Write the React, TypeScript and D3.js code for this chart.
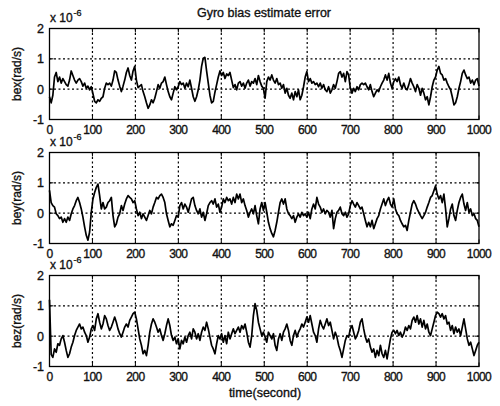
import React from 'react';
import * as d3 from 'd3';

const timeTicks = [0, 100, 200, 300, 400, 500, 600, 700, 800, 900, 1000];
const yTicks = [-1, 0, 1, 2];
const titleText = 'Gyro bias estimate error';
const xLabelText = 'time(second)';
const yLabels = ['bex(rad/s)', 'bey(rad/s)', 'bez(rad/s)'];

// bex, first and second half (units of 1e-6 rad/s)
const bexA = [
  -0.25, -0.45, -0.2, 0.4, 0.55, 0.25, 0.4, 0.2, 0.35, 0.25,
  0.15, 0.1, 0.3, 0.6, 0.45, 0.3, 0.2, 0.3, 0.35, 0.25,
  0.1, 0.2, 0.03, 0.1, -0.02, 0.08, -0.15, -0.4, -0.45, -0.35,
  -0.4, -0.3, -0.25, 0.03, 0.2, 0.15, 0.2, 0.1, 0.3, 0.6,
  0.55, 0.3, 0.1, -0.08, 0.1, 0.3, 0.55, 0.7, 0.45, 0.3,
  0.6, 0.75, 0.3, 0.05, 0.1, 0.15, -0.08, -0.25, -0.45, -0.63,
  -0.52, -0.35, -0.45, -0.3, -0.08, 0.15, 0.03, 0.2, 0.25, 0.4,
  0.15, -0.08, -0.25, -0.35, -0.13, 0.08, -0.02, 0.08, 0.25, 0.15,
  0.2, 0.03, 0.2, 0.08, 0.3, 0.03, -0.25, -0.4, -0.25, -0.02,
  0.3, 0.75, 1.02, 1.05, 0.6, 0.2, -0.2, -0.45, -0.4, -0.1,
  0.15, 0.4, 0.6, 0.45, 0.55, 0.35, 0.5, 0.45, 0.55, 0.3,
  0.05, 0.15, -0.02, 0.2, 0.25, 0.1, 0.2, 0.03, 0.2, 0.3,
  0.1, 0.25, 0.2, 0.35, 0.15, 0.45, 0.25, 0.1, 0.03,
];
const bexB = [
  -0.3, 0.25, 0.4, 0.3, 0.47, 0.3, 0.2, 0.35, 0.15, 0.2,
  0.03, 0.15, -0.13, 0.03, -0.2, -0.3, -0.13, -0.35, -0.08, -0.25,
  -0.02, -0.35, -0.2, 0.08, 0.4, 0.58, 0.25, 0.35, 0.2, 0.25,
  0.15, 0.2, 0.08, 0.2, 0.03, 0.15, -0.02, -0.08, 0.08, -0.13,
  -0.02, 0.15, 0.03, 0.25, 0.52, 0.58, 0.4, 0.52, 0.25, 0.58,
  0.47, 0.03, -0.13, 0.03, -0.08, 0.08, -0.02, 0.15, 0.2, 0.15,
  0.2, 0.08, -0.02, 0.15, -0.08, -0.25, -0.13, -0.02, -0.08, 0.08,
  0.2, 0.3, 0.47, 0.3, 0.52, 0.2, 0.03, 0.25, 0.35, 0.25,
  0.4, 0.15, 0.03, 0.2, 0.03, -0.02, 0.15, 0.35, 0.2, 0.08,
  -0.08, 0.15, 0.03, -0.2, 0.03, -0.13, -0.35, -0.25, -0.52, -0.25,
  0.08, 0.3, 0.4, 0.63, 0.75, 0.52, 0.47, 0.3, 0.35, 0.2,
  0.08, -0.02, -0.25, -0.52, -0.45, -0.25, 0.03, 0.25, 0.52, 0.63,
  0.47, 0.35, 0.4, 0.2, 0.3, 0.15, 0.3, 0.35, 0.1,
];

// bey
const beyA = [
  0.75, 0.35, 0.25, 0.2, -0.02, -0.08, -0.18, -0.13, -0.3, -0.18,
  -0.3, -0.13, -0.24, -0.02, 0.14, 0.25, 0.41, 0.52, 0.35, 0.14,
  -0.13, -0.45, -0.73, -0.89, -0.62, 0.03, 0.47, 0.68, 0.85, 0.96,
  0.58, 0.14, 0.35, 0.14, 0.2, 0.35, 0.41, 0.52, -0.08, -0.45,
  -0.35, -0.13, -0.02, 0.25, 0.09, 0.3, 0.47, 0.58, 0.52, 0.47,
  0.35, 0.41, 0.14, -0.08, 0.03, -0.18, -0.02, -0.13, -0.24, -0.08,
  0.09, -0.02, 0.2, 0.35, 0.52, 0.47, 0.58, 0.63, 0.52, 0.35,
  -0.02, -0.24, -0.45, -0.35, -0.4, -0.24, -0.08, -0.13, 0.25, 0.35,
  0.14, 0.3, 0.2, 0.03, 0.25, 0.47, 0.52, 0.25, 0.09, -0.02,
  0.14, -0.13, 0.03, -0.24, -0.02, 0.25, 0.35, 0.41, 0.3, 0.47,
  0.2, 0.3, 0.03, 0.2, 0.47, 0.35, 0.52, 0.41, 0.47, 0.3,
  0.52, 0.35, 0.63, 0.47, 0.63, 0.35, 0.47, 0.25, 0.09, -0.13,
  0.03, 0.14, -0.02, 0.25, -0.08, -0.35, 0.14, 0.35, 0.09,
];
const beyB = [
  0.35, 0.03, -0.3, -0.51, -0.67, -0.78, -0.57, -0.3, 0.03, 0.35,
  0.47, 0.3, 0.47, 0.14, -0.02, -0.08, -0.18, -0.08, -0.3, -0.13,
  -0.02, -0.13, 0.03, -0.08, -0.02, -0.13, 0.03, -0.18, 0.14, 0.3,
  0.14, 0.52, 0.3, 0.2, 0.03, 0.14, -0.02, 0.09, 0.03, -0.13,
  0.09, -0.51, -0.18, 0.03, 0.09, 0.2, -0.02, -0.08, 0.03, -0.13,
  -0.02, 0.25, 0.41, 0.3, 0.2, 0.35, 0.25, 0.14, 0.2, -0.02,
  -0.24, -0.45, -0.3, -0.45, -0.24, -0.51, -0.35, -0.18, -0.08, 0.14,
  0.3, 0.47, 0.25, 0.41, 0.52, 0.3, 0.2, 0.47, 0.14, -0.02,
  -0.08, -0.24, -0.35, -0.45, -0.4, -0.57, -0.24, 0.03, 0.3, 0.41,
  0.3, 0.14, 0.03, -0.08, -0.18, -0.08, 0.03, 0.2, 0.35, 0.52,
  0.58, 0.74, 0.9, 0.63, 0.47, 0.58, 0.35, 0.63, 0.14, -0.45,
  -0.18, 0.14, 0.3, -0.08, -0.24, 0.09, 0.35, 0.52, 0.63, 0.3,
  0.09, 0.35, 0.03, 0.14, -0.08, -0.02, -0.18, -0.24, -0.45,
];

// bez
const bezA = [
  1.2, -0.6, -0.7, -0.42, -0.53, -0.25, -0.3, -0.09, 0.02, -0.2,
  -0.47, -0.7, -0.58, -0.36, -0.2, 0.02, 0.19, 0.3, 0.4, 0.24,
  0.3, 0.13, 0.02, -0.2, -0.03, 0.24, 0.35, 0.19, 0.57, 0.74,
  0.46, 0.24, 0.4, 0.68, 0.57, 0.35, 0.19, 0.3, 0.46, 0.63,
  0.46, 0.24, 0.08, -0.03, 0.13, 0.3, 0.4, 0.3, 0.52, 0.63,
  0.74, 0.79, 0.57, 0.24, -0.09, -0.3, -0.58, -0.47, -0.64, -0.3,
  0.13, 0.4, 0.57, 0.46, 0.3, 0.13, 0.24, 0.02, -0.14, 0.08,
  0.35, 0.57, 0.35, 0.02, -0.14, -0.03, -0.25, -0.09, -0.42, -0.14,
  -0.25, -0.03, -0.2, 0.02, 0.13, -0.09, 0.24, 0.13, -0.09, 0.08,
  -0.14, 0.13, 0.3, 0.19, 0.46, 0.24, -0.03, -0.3, -0.42, -0.58,
  -0.25, 0.02, -0.09, 0.08, -0.2, 0.02, -0.25, 0.13, -0.09, 0.08,
  0.24, 0.08, 0.19, 0.3, 0.13, 0.35, 0.24, 0.4, 0.13, -0.2,
  -0.36, 0.02, 0.68, 1.07, 0.85, 0.46, 0.24, 0.02, 0.13,
];
const bezB = [
  -0.03, -0.2, 0.13, 0.02, -0.09, 0.08, -0.3, -0.47, -0.09, 0.08,
  -0.14, 0.13, 0.24, 0.4, 0.19, -0.14, -0.3, 0.02, 0.19, -0.03,
  0.13, 0.24, 0.4, 0.3, 0.46, 0.63, 0.46, 0.68, 0.4, 0.13,
  0.02, -0.2, 0.24, 0.52, 0.35, 0.24, 0.4, 0.57, 0.35, 0.46,
  0.19, -0.09, 0.13, -0.03, -0.3, -0.47, -0.7, -0.42, -0.14, 0.02,
  -0.03, 0.24, 0.35, 0.13, -0.09, 0.02, 0.19, 0.46, 0.57, 0.24,
  -0.03, -0.2, -0.09, -0.36, -0.53, -0.42, -0.7, -0.47, -0.64, -0.3,
  -0.58, -0.7, -0.47, -0.75, -0.42, -0.09, 0.13, 0.19, 0.08, 0.19,
  0.02, 0.13, -0.03, 0.08, 0.3, 0.19, 0.35, 0.24, 0.52, 0.63,
  0.46, 0.68, 0.4, 0.57, 0.3, 0.52, 0.24, 0.4, 0.13, 0.02,
  0.24, 0.46, 0.68, 0.79, 0.74, 0.63, 0.74, 0.57, 0.68, 0.4,
  0.46, 0.19, 0.35, 0.08, 0.3, 0.13, 0.24, 0.02, 0.3, 0.57,
  0.24, -0.09, -0.3, -0.2, -0.42, -0.64, -0.47, -0.3, -0.2,
];

const seriesList = [bexA.concat(bexB), beyA.concat(beyB), bezA.concat(bezB)];

const W = 500;
const H = 406;
const LEFT = 49.5;
const RIGHT = 479;
const TOPS = [28.5, 152.5, 275.5];
const PH = 91;
const FONT = '"Liberation Sans", Arial, Helvetica, sans-serif';
const TICK = 4;
const TXT = { fill: '#111', stroke: '#111', strokeWidth: 0.35 };

export default function App() {
  const x = d3.scaleLinear().domain([0, 1000]).range([LEFT, RIGHT]);

  return (
    <svg
      width={W}
      height={H}
      viewBox={`0 0 ${W} ${H}`}
      style={{ position: 'absolute', left: 0, top: 0, background: '#fff' }}
      fontFamily={FONT}
    >
      <rect x={0} y={0} width={W} height={H} fill="#fff" />
      <text x={264} y={17} fontSize={12.5} textAnchor="middle" {...TXT}>
        {titleText}
      </text>
      {seriesList.map((vals, pi) => {
        const top = TOPS[pi];
        const y = d3.scaleLinear().domain([-1, 2]).range([top + PH, top]);
        const n = vals.length;
        const line = d3
          .line<number>()
          .x((_, i) => x((i * 1000) / (n - 1)))
          .y((d) => y(d));
        return (
          <g key={pi}>
            {timeTicks.slice(1, -1).map((t) => (
              <line
                key={'gx' + t}
                x1={x(t)}
                x2={x(t)}
                y1={top}
                y2={top + PH}
                stroke="#000"
                strokeWidth={1.2}
                strokeDasharray="2,2.5"
              />
            ))}
            {yTicks.slice(1, -1).map((v) => (
              <line
                key={'gy' + v}
                x1={LEFT}
                x2={RIGHT}
                y1={y(v)}
                y2={y(v)}
                stroke="#000"
                strokeWidth={1.2}
                strokeDasharray="2,2.5"
              />
            ))}
            <path
              d={line(vals) || ''}
              fill="none"
              stroke="#000"
              strokeWidth={1.7}
              strokeLinejoin="round"
            />
            <rect
              x={LEFT}
              y={top}
              width={RIGHT - LEFT}
              height={PH}
              fill="none"
              stroke="#000"
              strokeWidth={1.3}
            />
            {timeTicks.map((t) => (
              <g key={'tx' + t}>
                <line x1={x(t)} x2={x(t)} y1={top + PH} y2={top + PH - TICK} stroke="#000" />
                <line x1={x(t)} x2={x(t)} y1={top} y2={top + TICK} stroke="#000" />
                <text
                  x={x(t)}
                  y={top + PH + 14}
                  fontSize={12}
                  textAnchor="middle"
                  letterSpacing={-0.6}
                  {...TXT}
                >
                  {t}
                </text>
              </g>
            ))}
            {yTicks.map((v) => (
              <g key={'ty' + v}>
                <line x1={LEFT} x2={LEFT + TICK} y1={y(v)} y2={y(v)} stroke="#000" />
                <line x1={RIGHT} x2={RIGHT - TICK} y1={y(v)} y2={y(v)} stroke="#000" />
                <text x={44} y={y(v) + 4.5} fontSize={12.5} textAnchor="end" {...TXT}>
                  {v}
                </text>
              </g>
            ))}
            <text x={50} y={top - 7} fontSize={12} {...TXT}>
              x 10
            </text>
            <text x={73.5} y={top - 13} fontSize={9} {...TXT}>
              -6
            </text>
            <text
              transform={`translate(21,${top + PH / 2}) rotate(-90)`}
              fontSize={12}
              textAnchor="middle"
              {...TXT}
            >
              {yLabels[pi]}
            </text>
          </g>
        );
      })}
      <text x={265} y={397} fontSize={12.5} textAnchor="middle" {...TXT}>
        {xLabelText}
      </text>
    </svg>
  );
}
